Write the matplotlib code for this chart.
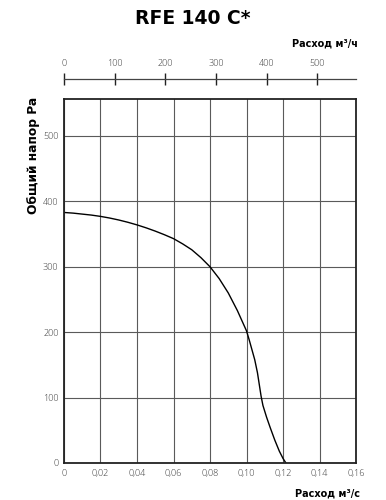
import matplotlib
matplotlib.use("Agg")
import matplotlib.pyplot as plt
from matplotlib.ticker import FixedLocator, FuncFormatter

# pressure curve (flow m3/s, total pressure Pa)
flow = [0.0, 0.005, 0.01, 0.015, 0.02, 0.025, 0.03, 0.035, 0.04, 0.045,
        0.05, 0.055, 0.06, 0.065, 0.07, 0.075, 0.08, 0.085, 0.09, 0.095,
        0.10, 0.1015, 0.103, 0.1045, 0.106, 0.107, 0.108, 0.109, 0.111,
        0.113, 0.1155, 0.118, 0.120, 0.1216]
pressure = [383, 382, 380.5, 379, 377, 374.5, 371.5, 368, 364, 359.5,
            354.5, 349, 343, 335, 326, 314, 300, 282, 260, 233,
            202, 188, 173, 158, 138, 120, 102, 88, 70,
            54, 35, 18, 7, 0]

x_ticks = [0, 0.02, 0.04, 0.06, 0.08, 0.10, 0.12, 0.14, 0.16]
y_ticks = [0, 100, 200, 300, 400, 500]
top_ticks = [0, 100, 200, 300, 400, 500]

title = "RFE 140 C*"
ylabel = "Общий напор Pa"
xlabel_bottom = "Расход м³/с"
xlabel_top = "Расход м³/ч"

HEAVY = ["DejaVu Sans"]
LIGHT = ["Open Sans", "DejaVu Sans"]


def fmt_flow(value, _pos=None):
    if value == 0:
        return "0"
    return f"{value:.2f}".replace(".", ",")


fig = plt.figure(figsize=(3.86, 5.0), dpi=100)
ax = fig.add_axes([0.1658, 0.074, 0.7565, 0.7274])

ax.plot(flow, pressure, color="black", linewidth=1.0)

ax.set_xlim(0, 0.16)
ax.set_ylim(0, 556)
ax.xaxis.set_major_locator(FixedLocator(x_ticks))
ax.yaxis.set_major_locator(FixedLocator(y_ticks))
ax.xaxis.set_major_formatter(FuncFormatter(fmt_flow))
ax.grid(True, color="#5a5a5a", linewidth=0.8)
ax.tick_params(length=0, labelsize=6.5, labelcolor="#333333", pad=4)
for label in ax.get_xticklabels() + ax.get_yticklabels():
    label.set_family(LIGHT)
    label.set_fontweight("light")
for spine in ax.spines.values():
    spine.set_linewidth(1.3)
    spine.set_color("#222222")

# top axis in m3/h
sec = ax.secondary_xaxis(1.055, functions=(lambda x: x * 3600, lambda x: x / 3600))
sec.xaxis.set_major_locator(FixedLocator(top_ticks))
sec.tick_params(direction="inout", length=8, width=1.0, labelsize=6.5,
                labelcolor="#333333", pad=4, color="#222222")
sec.spines["top"].set_linewidth(0.9)
sec.spines["top"].set_color("#444444")
for label in sec.get_xticklabels():
    label.set_family(LIGHT)
    label.set_fontweight("light")

fig.text(0.5, 0.962, title, ha="center", va="center", fontsize=13.5,
         fontweight="bold", family=HEAVY)
fig.text(0.927, 0.914, xlabel_top, ha="right", va="center", fontsize=7,
         fontweight="bold", family=HEAVY)
fig.text(0.932, 0.014, xlabel_bottom, ha="right", va="center", fontsize=7,
         fontweight="bold", family=HEAVY)
fig.text(0.086, 0.806, ylabel, ha="center", va="top", rotation=90, fontsize=8.8,
         fontweight="bold", family=HEAVY)

fig.savefig("out.png", dpi=100)
